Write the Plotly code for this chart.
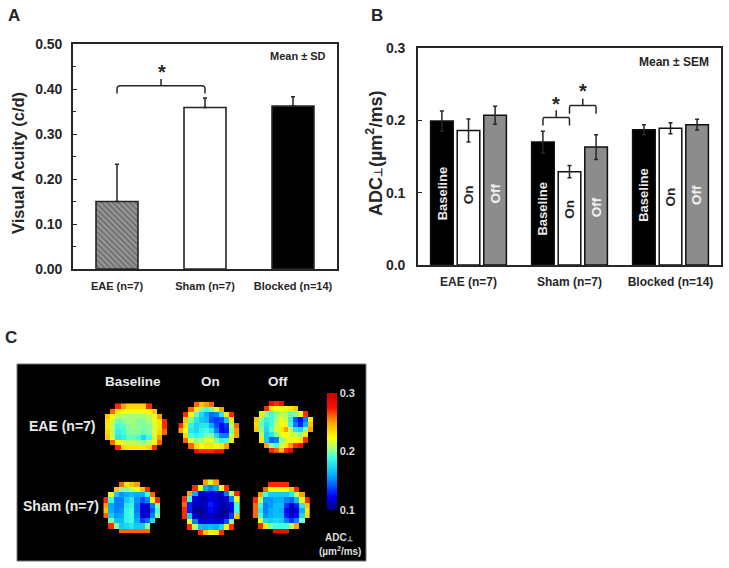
import plotly.graph_objects as go

W, H = 729, 568
FONT = "Liberation Sans"
N = None

# ---- Panel A data
a_groups = ["EAE (n=7)", "Sham (n=7)", "Blocked (n=14)"]
a_values = [0.150, 0.359, 0.362]
a_err_up = [0.083, 0.021, 0.021]
a_err_down = [0, 0, 0]

# ---- Panel B data
b_groups = ["EAE (n=7)", "Sham (n=7)", "Blocked (n=14)"]
b_baseline = [0.199, 0.170, 0.187]
b_on = [0.186, 0.129, 0.189]
b_off = [0.207, 0.163, 0.194]
b_baseline_err = [0.014, 0.015, 0.007]
b_on_err = [0.016, 0.0085, 0.0075]
b_off_err = [0.0125, 0.017, 0.0075]
b_label_heights = {
    "Baseline": [0.099, 0.078, 0.097],
    "On": [0.097, 0.077, 0.094],
    "Off": [0.099, 0.080, 0.097],
}

# ---- Panel C data (ADC maps, rows top to bottom)
eae_baseline = [
    [N, N, .27, .25, .235, .235, .235, .235, .27, N, N, N],
    [N, .26, .23, .225, .22, .22, .22, .22, .225, .24, N, N],
    [.24, .225, .21, .205, .205, .205, .205, .205, .21, .22, .25, N],
    [.23, .215, .195, .2, .205, .205, .2, .2, .205, .22, .23, .27],
    [.23, .21, .19, .195, .2, .205, .2, .2, .2, .215, .23, .27],
    [.235, .21, .185, .19, .2, .2, .2, .195, .2, .215, .235, .26],
    [.24, .215, .18, .185, .195, .195, .19, .175, .19, .215, .25, N],
    [N, .26, .225, .215, .21, .21, .205, .2, .21, .225, .26, N],
    [N, N, .27, .235, .23, .23, .23, .23, .235, .27, N, N],
]
eae_on = [
    [N, N, N, .26, .24, .25, .26, N, N, N, N, N],
    [N, N, .26, .23, .2, .19, .2, .22, .25, N, N, N],
    [N, .27, .225, .195, .175, .16, .145, .15, .18, .23, .27, N],
    [N, .24, .2, .18, .17, .165, .14, .135, .14, .17, .23, N],
    [.27, .23, .185, .175, .18, .18, .16, .14, .125, .135, .21, .26],
    [.25, .22, .18, .175, .185, .19, .18, .15, .125, .13, .2, .25],
    [N, .235, .19, .185, .19, .2, .2, .175, .15, .15, .21, .25],
    [N, .26, .215, .2, .205, .215, .22, .2, .185, .19, .23, N],
    [N, N, .26, .235, .225, .23, .23, .225, .23, .25, N, N],
    [N, N, N, .28, .27, .27, .27, .28, .28, N, N, N],
]
eae_off = [
    [N, N, N, .28, .27, .28, N, N, N, N, N, N],
    [N, N, .27, .23, .225, .22, .225, .23, .24, N, N, N],
    [N, .23, .2, .19, .2, .21, .205, .195, .2, .22, .27, N],
    [.24, .2, .185, .19, .205, .22, .215, .185, .14, .125, .15, .23],
    [.235, .195, .18, .19, .21, .225, .22, .19, .15, .13, .16, .24],
    [.24, .2, .175, .195, .215, .23, .25, .215, .18, .175, .2, .25],
    [N, .21, .17, .18, .2, .22, .225, .215, .21, .2, .23, N],
    [N, .23, .17, .145, .15, .2, .215, .22, .225, .23, .27, N],
    [N, N, .25, .2, .19, .215, .23, .25, .27, .28, N, N],
    [N, N, N, .27, .26, .24, .27, .28, N, N, N, N],
]
sham_baseline = [
    [N, N, N, .26, .23, .24, .25, N, N, N, N],
    [N, N, .24, .2, .2, .21, .22, .24, .27, N, N],
    [N, .22, .17, .155, .16, .165, .16, .16, .19, .26, N],
    [.27, .19, .15, .15, .17, .18, .155, .14, .15, .22, .27],
    [.25, .16, .15, .15, .18, .185, .15, .12, .115, .15, .2],
    [.24, .16, .15, .155, .185, .19, .15, .115, .11, .14, .19],
    [.26, .17, .155, .16, .185, .19, .155, .115, .115, .15, .2],
    [N, .2, .165, .165, .185, .19, .16, .135, .145, .175, N],
    [N, .27, .2, .17, .175, .18, .17, .17, .2, N, N],
    [N, N, N, .26, .26, .26, .26, .26, .26, N, N],
]
sham_on = [
    [N, N, N, N, .25, .21, .25, N, N, N, N],
    [N, N, .27, .22, .16, .15, .16, .22, .27, N, N],
    [N, .25, .16, .12, .115, .115, .115, .12, .15, .21, .27],
    [.27, .19, .12, .11, .11, .12, .115, .11, .115, .15, .22],
    [.26, .13, .11, .11, .115, .13, .12, .11, .11, .12, .19],
    [.27, .13, .105, .105, .11, .125, .115, .105, .105, .12, .19],
    [.27, .17, .115, .105, .11, .115, .11, .105, .11, .135, .24],
    [N, .22, .15, .12, .115, .12, .115, .12, .14, .2, N],
    [N, .27, .21, .165, .16, .165, .16, .175, .22, .27, N],
    [N, N, N, .27, .24, .22, .23, .27, N, N, N],
]
sham_off = [
    [N, N, N, .27, .27, .27, .27, N, N, N, N],
    [N, N, .26, .225, .22, .22, .225, .24, .27, N, N],
    [N, .25, .19, .17, .17, .17, .17, .18, .21, .25, N],
    [.27, .21, .155, .155, .16, .16, .15, .145, .165, .22, .27],
    [.26, .19, .15, .155, .165, .165, .135, .115, .13, .18, .24],
    [.26, .18, .15, .16, .165, .16, .125, .11, .115, .16, .23],
    [.26, .19, .155, .16, .165, .165, .13, .115, .125, .175, .235],
    [N, .22, .175, .17, .175, .17, .15, .135, .15, .2, N],
    [N, .27, .23, .2, .19, .19, .19, .21, .25, N, N],
    [N, N, N, N, .28, .28, .28, N, N, N, N],
]
map_ticks = [0.1, 0.2, 0.3]


def px(x):
    return x / W


def py(y):
    return 1 - y / H


def dom_x(a, b):
    return [px(a), px(b)]


def dom_y(top, bottom):
    return [py(bottom), py(top)]


fig = go.Figure()
layout = {}
BAR_OFFSET = 0.263
INK = "#262626"

# Panel A
fig.add_trace(go.Bar(
    x=[0, 1, 2], y=a_values, width=0.477, xaxis="x", yaxis="y", showlegend=False,
    marker=dict(
        color=["#9a9a9a", "white", "black"],
        line=dict(color=INK, width=1.6),
        pattern=dict(shape=["\\", "", ""], fgcolor="#333333", bgcolor="#d8d8d8", size=4, solidity=0.5),
    ),
    error_y=dict(type="data", symmetric=False, array=a_err_up, arrayminus=a_err_down,
                 color=INK, thickness=1.5, width=2),
))

# Panel B
for name, vals, errs, col in [
    ("Baseline", b_baseline, b_baseline_err, "black"),
    ("On", b_on, b_on_err, "white"),
    ("Off", b_off, b_off_err, "#8c8c8c"),
]:
    fig.add_trace(go.Bar(
        x=[0, 1, 2], y=vals, name=name, xaxis="x2", yaxis="y2", showlegend=False,
        marker=dict(color=col, line=dict(color="#111111", width=1.5)),
        error_y=dict(type="data", array=errs, color=INK, thickness=1.5, width=2),
    ))

# Panel C maps
maps = [
    (eae_baseline, 105, 167, 403.3, 450),
    (eae_on, 178.3, 239.3, 401.7, 453.3),
    (eae_off, 254, 313.3, 401, 452.7),
    (sham_baseline, 103.3, 160, 481.7, 533.3),
    (sham_on, 181.7, 240, 479.3, 535),
    (sham_off, 252.7, 310, 481.7, 533.3),
]
for i, (z, x0, x1, y0, y1) in enumerate(maps):
    k = i + 3
    fig.add_trace(go.Heatmap(z=z, coloraxis="coloraxis", xaxis=f"x{k}", yaxis=f"y{k}",
                             hoverongaps=False, xgap=0, ygap=0))
    layout[f"xaxis{k}"] = dict(domain=dom_x(x0, x1), anchor=f"y{k}", visible=False,
                               range=[-0.5, len(z[0]) - 0.5])
    layout[f"yaxis{k}"] = dict(domain=dom_y(y0, y1), anchor=f"x{k}", visible=False,
                               range=[len(z) - 0.5, -0.5])

axis_line = dict(showline=True, linecolor=INK, linewidth=1.6, mirror=True, showgrid=False, zeroline=False)
tick_font = dict(family=FONT, size=14, color=INK, weight="bold")

layout["xaxis"] = dict(domain=dom_x(73, 337), anchor="y", range=[-0.5, 2.5], tickmode="array",
                       tickvals=[0, 1, 2], ticktext=a_groups, ticks="", ticklabelstandoff=6,
                       tickfont=dict(family=FONT, size=11, color=INK, weight="bold"), **axis_line)
layout["yaxis"] = dict(domain=dom_y(44, 269), anchor="x", range=[0, 0.5], dtick=0.1, tickformat=".2f",
                       ticks="inside", ticklen=4, tickcolor=INK, tickfont=tick_font, ticklabelstandoff=6,
                       minor=dict(dtick=0.05, ticks="inside", ticklen=3, tickcolor=INK), **axis_line)
layout["xaxis2"] = dict(domain=dom_x(418, 721), anchor="y2", range=[-0.5, 2.5], tickmode="array",
                        tickvals=[0, 1, 2], ticktext=b_groups, ticks="", ticklabelstandoff=5,
                        tickfont=dict(family=FONT, size=12, color=INK, weight="bold"), **axis_line)
layout["yaxis2"] = dict(domain=dom_y(48, 265), anchor="x2", range=[0, 0.3], dtick=0.1, tickformat=".1f",
                        ticks="inside", ticklen=4, tickcolor=INK, tickfont=tick_font, ticklabelstandoff=8,
                        **axis_line)

ann = []


def paper_text(text, x, y, size, color=INK, angle=0, anchor="center"):
    ann.append(dict(text=text, xref="paper", yref="paper", x=px(x), y=py(y), showarrow=False,
                    xanchor=anchor, yanchor="middle", textangle=angle,
                    font=dict(family=FONT, size=size, color=color)))


def data_text(text, x, y, axis, size, color=INK, angle=0):
    ann.append(dict(text=text, xref=f"x{axis}", yref=f"y{axis}", x=x, y=y, showarrow=False,
                    xanchor="center", yanchor="middle", textangle=angle,
                    font=dict(family=FONT, size=size, color=color)))


paper_text("<b>A</b>", 14, 15, 17)
paper_text("<b>B</b>", 377, 15, 17)
paper_text("<b>C</b>", 11, 337, 17)
paper_text("<b>Visual Acuity (c/d)</b>", 18, 163, 16.5, angle=-90)
paper_text("<b>ADC<span style='font-size:11px'>\u22a5</span>(\u00b5m<sup>2</sup>/ms)</b>", 375, 154, 18, angle=-90)
paper_text("<b>Mean \u00b1 SD</b>", 328, 56, 11, anchor="right")
paper_text("<b>Mean \u00b1 SEM</b>", 711, 62, 12, anchor="right")
paper_text("<b>Baseline</b>", 133, 381, 13.5, "#e8e8e8")
paper_text("<b>On</b>", 211, 381, 13.5, "#e8e8e8")
paper_text("<b>Off</b>", 278, 381, 13.5, "#e8e8e8")
paper_text("<b>EAE (n=7)</b>", 62, 426, 14, "#e8e8e8")
paper_text("<b>Sham (n=7)</b>", 61, 506, 14, "#e8e8e8")
paper_text("<b>ADC<span style='font-size:7px'>\u22a5</span></b>", 339, 537, 10, "#dddddd")
paper_text("<b>(\u00b5m<sup>2</sup>/ms)</b>", 340, 551, 10, "#dddddd")

for name, off, col in [("Baseline", -BAR_OFFSET, "#e8e8e8"), ("On", 0, INK), ("Off", BAR_OFFSET, "#f2f2f2")]:
    for g, h in enumerate(b_label_heights[name]):
        data_text(f"<b>{name}</b>", g + off, h, 2, 13 if name == "Baseline" else 13.5, col, -90)

data_text("<b>*</b>", 0.51, 0.438, "", 20)
data_text("<b>*</b>", 1 - BAR_OFFSET / 2, 0.222, 2, 20)
data_text("<b>*</b>", 1 + BAR_OFFSET / 2, 0.240, 2, 20)


def bracket(x0, x1, top, end, stem, axis):
    mid = (x0 + x1) / 2
    r = (x1 - x0) * 0.04
    t = (top - end) * 0.4
    path = (f"M {x0} {end} L {x0} {top - t} Q {x0} {top} {x0 + r} {top} "
            f"L {x1 - r} {top} Q {x1} {top} {x1} {top - t} L {x1} {end} "
            f"M {mid} {top} L {mid} {stem}")
    return dict(type="path", path=path, xref=f"x{axis}", yref=f"y{axis}",
                line=dict(color=INK, width=1.5))


shapes = [
    dict(type="rect", xref="paper", yref="paper", x0=px(17), x1=px(366), y0=py(561), y1=py(364),
         fillcolor="black", line=dict(color="#777777", width=1), layer="below"),
    bracket(0, 1, 0.407, 0.39, 0.422, ""),
    bracket(1 - BAR_OFFSET, 1, 0.204, 0.193, 0.214, 2),
    bracket(1, 1 + BAR_OFFSET, 0.2204, 0.209, 0.23, 2),
]

fig.update_layout(
    width=W, height=H, margin=dict(l=0, r=0, t=0, b=0, autoexpand=False),
    paper_bgcolor="white", plot_bgcolor="rgba(0,0,0,0)", barmode="group", bargap=0.21, bargroupgap=0.15,
    annotations=ann, shapes=shapes,
    coloraxis=dict(
        cmin=0.1, cmax=0.3,
        colorscale=[[0, "#00007f"], [0.12, "#0000ff"], [0.3, "#00b0ff"], [0.45, "#40ffe0"], [0.52, "#a0ff80"],
                    [0.62, "#ffff00"], [0.75, "#ffa000"], [0.87, "#ff1000"], [1, "#c80000"]],
        colorbar=dict(
            x=px(327), xanchor="left", y=py(510), yanchor="bottom", len=117, lenmode="pixels",
            thickness=10, thicknessmode="pixels", outlinewidth=0, borderwidth=0, xpad=0, ypad=0,
            tickmode="array", tickvals=map_ticks, ticktext=[f"{t:.1f}" for t in map_ticks], ticks="",
            tickfont=dict(family=FONT, size=11, color="#dddddd", weight="bold"),
        ),
    ),
    **layout,
)
fig.update_annotations(align="center")
fig.write_html("out.html", post_script="document.body.style.margin='0';", config={"displayModeBar": False})
